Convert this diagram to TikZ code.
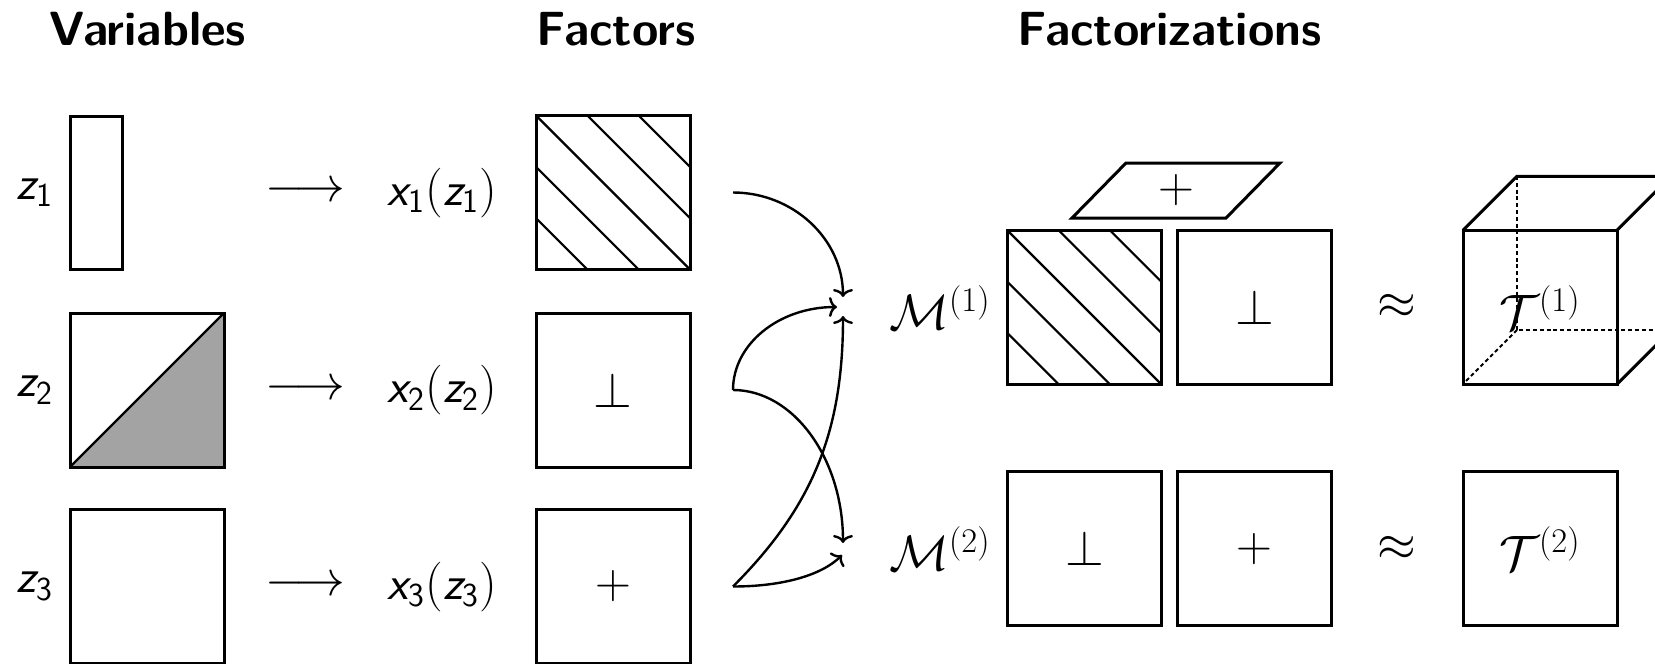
\documentclass[tikz,border=0pt]{standalone}
\usetikzlibrary{calc,arrows.meta}
\DeclareMathAlphabet{\mathsfit}{TU}{lmss}{m}{sl}
\DeclareMathAlphabet{\mathsfup}{TU}{lmss}{m}{n}
\begin{document}
\begin{tikzpicture}[x=0.5pt,y=-0.5pt,
  every node/.style={font=\fontsize{24}{28}\selectfont, inner sep=0pt},
  box/.style={draw, line width=1.5pt, minimum width=77pt, minimum height=77pt, inner sep=0pt, outer sep=0pt},
  hatched/.style={path picture={
      \foreach \k in {-2,-1,0,1,2}{
        \draw[line width=1.1pt] ($(path picture bounding box.north west)+(\k*51.33,0)$) -- ++(154,154);
      }}},
  conn/.style={line width=1.2pt, -{To[length=4pt,width=10pt]}},
  hidden/.style={line width=0.9pt, dash pattern=on 2pt off 1.4pt},
  title/.style={font=\fontsize{24}{28}\selectfont\sffamily\bfseries, anchor=base west},
  solid3d/.style={line width=1.5pt}
]
\useasboundingbox (0,0) rectangle (1655,664);

% titles
\node[title] (tv) at (49,45) {Variables};
\node[title] (tf) at (536,45) {Factors};
\node[title] (tz) at (1017,45) {Factorizations};

% variables
\node[draw, line width=1.5pt, minimum width=26pt, minimum height=76.5pt] (v1) at (96,192.5) {};
\node[box, path picture={\fill[black!36] (path picture bounding box.south west) -- (path picture bounding box.north east) |- cycle;
   \draw[line width=1.2pt] (path picture bounding box.south west) -- (path picture bounding box.north east);}] (v2) at (147,390) {};
\draw[line width=1.5pt] (v2.south west) rectangle (v2.north east);
\node[box] (v3) at (147,586.5) {};

\node (zl1) at (35,192.5) {$\mathsfit{z}_{\mathsfup{1}}$};
\node (zl2) at (35,390) {$\mathsfit{z}_{\mathsfup{2}}$};
\node (zl3) at (35,586.5) {$\mathsfit{z}_{\mathsfup{3}}$};

\node (a1) at (305.5,192.5) {$\longrightarrow$};
\node (a2) at (305.5,390) {$\longrightarrow$};
\node (a3) at (305.5,586.5) {$\longrightarrow$};

\node (xl1) at (442.5,193) {$\mathsfit{x}_{\mathsfup{1}}(\mathsfit{z}_{\mathsfup{1}})$};
\node (xl2) at (442.5,390.5) {$\mathsfit{x}_{\mathsfup{2}}(\mathsfit{z}_{\mathsfup{2}})$};
\node (xl3) at (442.5,587) {$\mathsfit{x}_{\mathsfup{3}}(\mathsfit{z}_{\mathsfup{3}})$};

% factors
\node[box, hatched] (f1) at (613,192.5) {};
\node[box] (f2) at (613,390) {$\perp$};
\node[box] (f3) at (613,586.5) {$+$};

% connector ends
\coordinate (s1) at ($(f1.east)+(43,0)$);
\coordinate (s2) at ($(f2.east)+(43,0)$);
\coordinate (s3) at ($(f3.east)+(43,0)$);
\coordinate (e1a) at (843,297);
\coordinate (e1b) at (837,307);
\coordinate (e1c) at (843,316);
\coordinate (e2a) at (843,543);
\coordinate (e2b) at (842,555);

\draw[conn] (s1) .. controls +(60,0) and +(0,-58) .. (e1a);
\draw[conn] (s2) .. controls +(0,-46) and +(-58,0) .. (e1b);
\draw[conn] (s2) .. controls +(60,0) and +(0,-85) .. (e2a);
\draw[conn] (s3) .. controls +(80,-80) and +(0,115) .. (e1c);
\draw[conn] (s3) .. controls +(50,0) and +(-20,20) .. (e2b);

% factorizations
\node (m1) at (940,307.5) {$\mathcal{M}^{(1)}$};
\node (m2) at (940,548.7) {$\mathcal{M}^{(2)}$};

\node[box, hatched] (m1a) at (1084.5,307.5) {};
\node[box] (m1b) at (1254.5,307.5) {$\perp$};
\node[box] (m2a) at (1084.5,548.7) {$\perp$};
\node[box] (m2b) at (1254.5,548.7) {$+$};

\coordinate (p1) at (1072,218);
\coordinate (p2) at (1226,218);
\coordinate (p3) at (1280,163);
\coordinate (p4) at (1126,163);
\draw[solid3d] (p1) -- (p2) -- (p3) -- (p4) -- cycle;
\node (pp) at (1176,190.5) {$+$};

\node (ap1) at (1397,306) {$\approx$};
\node (ap2) at (1397,548) {$\approx$};

% cube
\draw[hidden] (1517,176) -- (1517,330) -- (1671,330);
\draw[hidden] (1517,330) -- (1463,384);
\node[box] (t1) at (1540,307.3) {$\mathcal{T}^{(1)}$};
\draw[solid3d] (t1.north west) -- ++(54,-54) -- ++(154,0) -- ++(0,154) -- (t1.south east);
\draw[solid3d] (t1.north east) -- ++(54,-54);

\node[box] (t2) at (1540,548.7) {$\mathcal{T}^{(2)}$};
\end{tikzpicture}
\end{document}
